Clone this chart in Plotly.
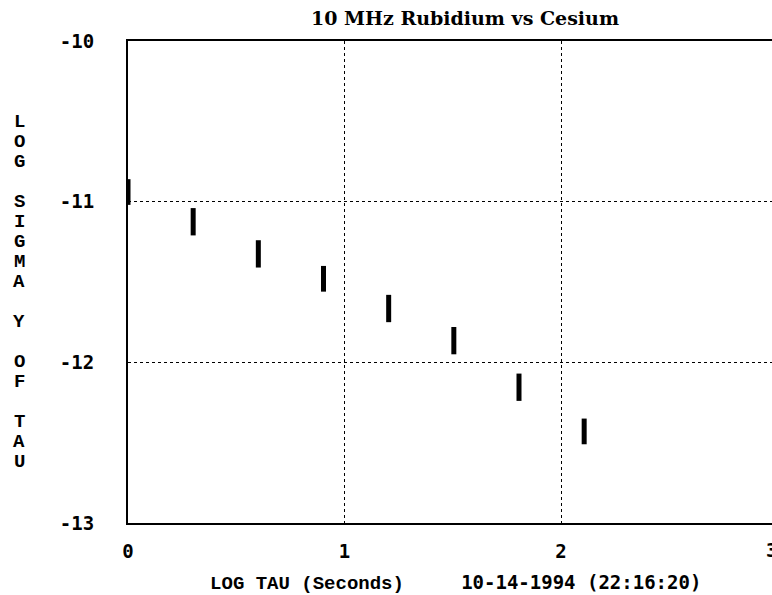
import plotly.graph_objects as go

# Data
log_tau = [0.0, 0.301, 0.602, 0.903, 1.204, 1.505, 1.806, 2.107]
sigma_hi = [-10.86, -11.04, -11.24, -11.40, -11.58, -11.78, -12.07, -12.35]
sigma_lo = [-11.02, -11.21, -11.41, -11.56, -11.75, -11.95, -12.24, -12.51]
x_ticks = [0, 1, 2]
y_ticks = [-10, -11, -12, -13]

title_text = "10 MHz Rubidium vs Cesium"
x_title_left = "LOG TAU (Seconds)"
x_title_right = "10-14-1994 (22:16:20)"
y_label_rows = ["L", "O", "G", "", "S", "I", "G", "M", "A", "", "Y", "", "O", "F", "", "T", "A", "U"]

W, H = 772, 595
L, R, T, B = 128, 0, 41, 72
px_per_unit_x = 216.5
plot_w = W - L - R
plot_h = H - T - B
x_max = plot_w / px_per_unit_x

xs, ys = [], []
for xv, hi, lo in zip(log_tau, sigma_hi, sigma_lo):
    xs += [xv, xv, None]
    ys += [hi, lo, None]

fig = go.Figure()
fig.add_trace(go.Scatter(x=xs, y=ys, mode="lines",
                         line=dict(color="black", width=5),
                         hoverinfo="skip", showlegend=False, cliponaxis=False))

tick_font = dict(family="DejaVu Sans Mono", size=19, color="black", weight="bold")

fig.update_layout(
    width=W, height=H,
    margin=dict(l=L, r=R, t=T, b=B, autoexpand=False),
    paper_bgcolor="white", plot_bgcolor="white",
    showlegend=False,
    title=dict(text=title_text, x=465 / W, xanchor="center", xref="container",
               y=1 - 18 / H, yanchor="middle", yref="container",
               font=dict(family="DejaVu Serif", size=19, color="black", weight="bold")),
    xaxis=dict(range=[0, x_max], tickvals=x_ticks, ticktext=[str(v) for v in x_ticks],
               showgrid=True, gridcolor="black", griddash="dot", gridwidth=1,
               showline=True, linecolor="black", linewidth=2, mirror=True,
               zeroline=False, ticks="", tickfont=tick_font, ticklabelstandoff=10,
               title=dict(text=(f'&nbsp;<span style="font-family:Liberation Mono">{x_title_left}</span>'
                                f'     {x_title_right}'),
                          font=dict(family="DejaVu Sans Mono", size=19, color="black", weight="bold"),
                          standoff=16)),
    yaxis=dict(range=[-13, -10], tickvals=y_ticks, ticktext=[str(v) for v in y_ticks],
               showgrid=True, gridcolor="black", griddash="dot", gridwidth=1,
               showline=True, linecolor="black", linewidth=2, mirror=False,
               zeroline=False, ticks="", tickfont=tick_font, ticklabelstandoff=28),
)

# Partially visible "3" tick at the right edge (cut off in the reference too)
fig.add_annotation(text="3", xref="paper", yref="paper",
                   x=(771 - L) / plot_w, y=-(550 - (H - B)) / plot_h,
                   xanchor="center", yanchor="middle", showarrow=False,
                   font=tick_font)

# Vertical stacked y-axis label
for i, ch in enumerate(y_label_rows):
    if not ch:
        continue
    py = 122 + 20 * i
    fig.add_annotation(text=ch, xref="paper", yref="paper",
                       x=(19 - L) / plot_w, y=((H - B) - py) / plot_h,
                       xanchor="center", yanchor="middle", showarrow=False,
                       font=dict(family="Liberation Mono", size=19, color="black", weight="bold"))

fig.write_html("out.html", config={"displayModeBar": False},
               post_script="document.body.style.margin='0px';document.body.style.overflow='hidden';")
